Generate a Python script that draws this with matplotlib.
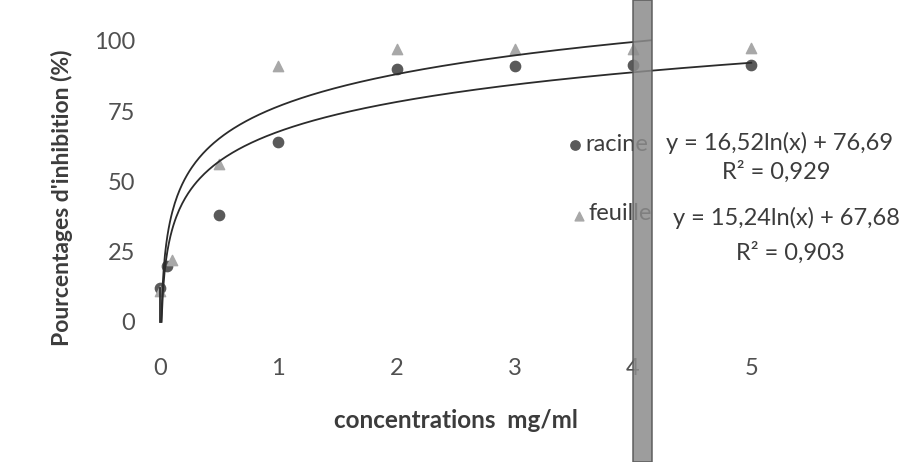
import numpy as np
import matplotlib.pyplot as plt
from matplotlib.patches import Rectangle

plt.rcParams['font.family'] = ['Lato', 'DejaVu Sans']

# donnees
x_racine = [0.0, 0.06, 0.5, 1, 2, 3, 4, 5]
y_racine = [12, 20, 38, 64, 90, 91, 91.5, 91.5]
x_feuille = [0.0, 0.1, 0.5, 1, 2, 3, 4, 5]
y_feuille = [11, 22, 56, 91, 97, 97, 97, 97.5]

# coefficients des courbes de tendance (y = a ln(x) + b)
coef_haut = [16.52, 76.69]
coef_bas = [15.24, 67.68]
xmax_haut = 4.15
xmax_bas = 5.0

xticks = [0, 1, 2, 3, 4, 5]
yticks = [0, 25, 50, 75, 100]

fig = plt.figure(figsize=(9.07, 4.62), dpi=100)
ax = fig.add_axes([0.160, 0.273, 0.74, 0.669])
ax.set_xlim(-0.127, 5.55)
ax.set_ylim(-5, 105)

gris_fonce = '#5a5a5a'
gris_clair = '#a8a8a8'
texte = '#3c3c3c'

ax.scatter(x_racine, y_racine, marker='o', s=55, color=gris_fonce, zorder=3)
ax.scatter(x_feuille, y_feuille, marker='^', s=55, color=gris_clair, zorder=3)

# courbes de tendance logarithmiques
a, b = coef_haut
xs = np.linspace(np.exp(-b / a), xmax_haut, 400)
ax.plot(xs, a * np.log(xs) + b, color='#2b2b2b', lw=1.3, zorder=4)
a, b = coef_bas
xs = np.linspace(np.exp(-b / a), xmax_bas, 400)
ax.plot(xs, a * np.log(xs) + b, color='#2b2b2b', lw=1.3, zorder=4)
ax.plot([0, 0], [0, 12], color='#2b2b2b', lw=1.3, zorder=4)

ax.set_xticks(xticks)
ax.set_yticks(yticks)
ax.tick_params(length=0, labelsize=17, labelcolor='#505050')
ax.tick_params(axis='x', pad=16)
ax.tick_params(axis='y', pad=7)
for s in ax.spines.values():
    s.set_visible(False)

fig.text(456 / 907, 1 - 420 / 462, 'concentrations  mg/ml', fontsize=17.5,
         fontweight='bold', color=texte, ha='center', va='center')
fig.text(62 / 907, 1 - 198 / 462, "Pourcentages d'inhibition (%)", rotation=90,
         fontsize=16.5, fontweight='bold', color=texte,
         ha='center', va='center')

# legende et equations
ax.scatter([3.51], [63], marker='o', s=45, color=gris_fonce, clip_on=False)
ax.text(3.6, 63, 'racine', fontsize=17, color=texte, va='center')
ax.scatter([3.54], [37.7], marker='^', s=40, color=gris_clair, clip_on=False)
ax.text(3.62, 38.5, 'feuille', fontsize=17, color=texte, va='center')
ax.text(5.24, 63.7, 'y = 16,52ln(x) + 76,69', fontsize=17, color=texte,
        ha='center', va='center')
ax.text(5.21, 53.5, 'R² = 0,929', fontsize=17, color=texte,
        ha='center', va='center')
ax.text(5.30, 37.0, 'y = 15,24ln(x) + 67,68', fontsize=17, color=texte,
        ha='center', va='center')
ax.text(5.33, 24.6, 'R² = 0,903', fontsize=17, color=texte,
        ha='center', va='center')

# pli de la numerisation
fig.patches.append(Rectangle((633 / 907, 0), 19 / 907, 1, transform=fig.transFigure,
                             facecolor='#8c8c8c', edgecolor='#555555', lw=1.2,
                             alpha=0.85, zorder=10))

fig.savefig('out.png', dpi=100)
